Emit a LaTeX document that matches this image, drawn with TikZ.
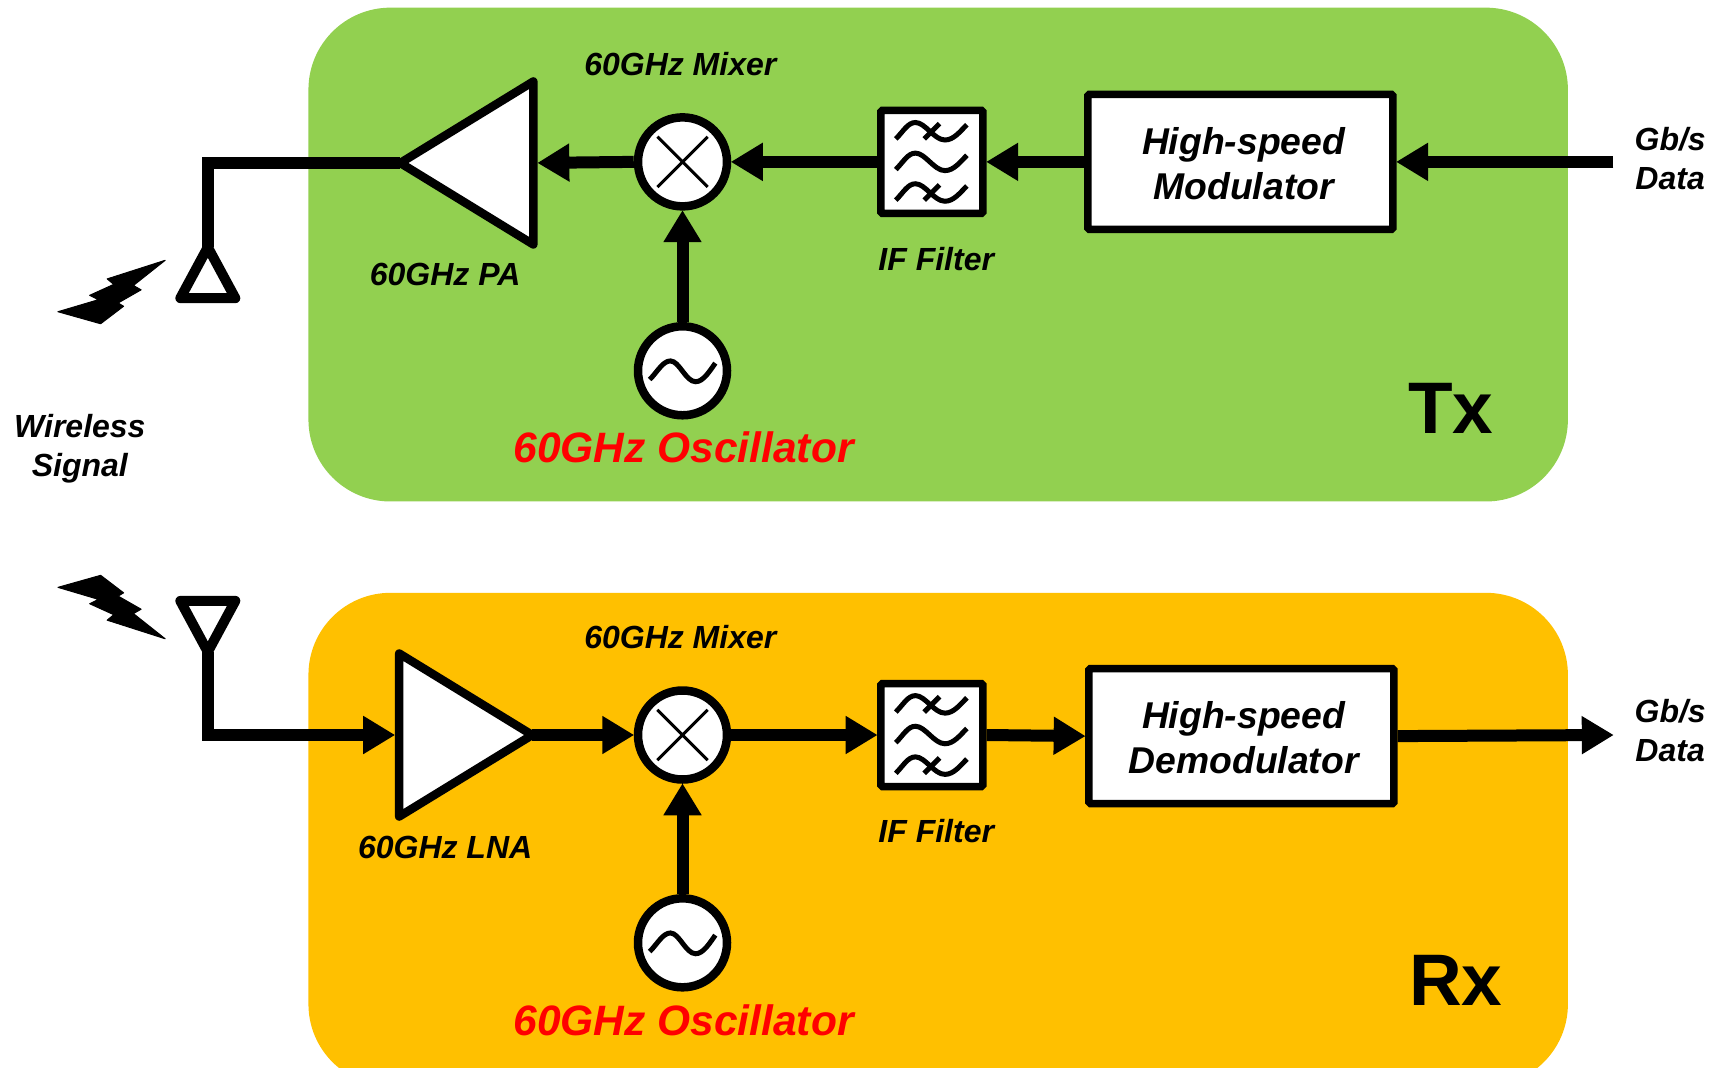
\documentclass[tikz,border=0pt]{standalone}
\usepackage{fontspec}
\setmainfont{Liberation Sans}
\usetikzlibrary{arrows.meta,shapes.geometric}
\definecolor{txgreen}{HTML}{92D050}
\definecolor{rxorange}{HTML}{FFC000}
\tikzset{
  panel/.style={rounded corners=82pt,draw=none},
  wire/.style={line width=12pt,line join=miter},
  arrowwire/.style={wire,-{Triangle[length=32pt,width=36pt]},shorten >=-0.5pt},
  block/.style={draw,line width=7.5pt,fill=white,rounded corners=1.5pt,inner sep=0pt},
  filterbox/.style={block,minimum width=102pt,minimum height=103pt},
  modbox/.style={block,minimum width=305pt,minimum height=135pt},
  modtext/.style={font=\bfseries\itshape\fontsize{37.3}{44.8}\selectfont,align=center,inner sep=0pt},
  roundel/.style={circle,draw,line width=8.5pt,fill=white,minimum size=89pt,inner sep=0pt},
  amp/.style={isosceles triangle,isosceles triangle stretches,draw,line width=8.5pt,line join=round,fill=white,inner sep=0pt,outer sep=0pt,minimum width=163pt,minimum height=133pt},
  antenna/.style={isosceles triangle,isosceles triangle stretches,draw,line width=10pt,line join=round,fill=white,inner sep=0pt,outer sep=0pt,minimum width=55pt,minimum height=51pt},
  lbl/.style={font=\bfseries\itshape\fontsize{32}{39}\selectfont,align=center,inner sep=0pt},
  osclbl/.style={font=\bfseries\itshape\fontsize{42.5}{50}\selectfont,text=red,inner sep=0pt},
  sidelbl/.style={font=\bfseries\fontsize{73}{80}\selectfont,inner sep=0pt},
  sym/.style={line width=3pt},
  wave/.style={line width=5pt},
  pics/filtericon/.style={code={
    \foreach \yy/\tick in {-28/1,0/0,28/1}{
      \draw[wave] (-33,\yy+7) .. controls (-26,\yy+0) and (-22,\yy-8) .. (-15,\yy-8)
        .. controls (-6,\yy-8) and (2,\yy+8) .. (12,\yy+8) .. controls (20,\yy+8) and (26,\yy+0) .. (32,\yy-6);
      \ifnum\tick=1 \draw[wave] (-7,\yy+7) -- (7,\yy-7); \fi
    }
  }},
  pics/crosssym/.style={code={
    \draw[sym] (-23,-23) -- (23,23) (23,-23) -- (-23,23);
  }},
  pics/tildesym/.style={code={
    \draw[line width=5pt] (-30,8) .. controls (-23,1) and (-18,-9) .. (-11,-9)
      .. controls (-3,-9) and (3,10) .. (12,10) .. controls (19,10) and (25,0) .. (30,-7);
  }},
  pics/boltsym/.style={code={
    \fill[line join=round,draw,line width=1pt]
      (98,0) -- (45,17) -- (51,22) -- (29,32) -- (37,36) -- (0,47) -- (39,58) -- (60,42)
      -- (55,39) -- (76,27) -- (69,23) -- cycle;
  }}
}
\begin{document}
\begin{tikzpicture}[x=1.0937pt,y=-1.0937pt]
\useasboundingbox (0,0) rectangle (1568,975.6);
\begin{scope}
\clip (0,0) rectangle (1568,975.6);
\fill[panel,fill=txgreen] (282,7) rectangle (1433.5,458.5);
\fill[panel,fill=rxorange] (282,542) rectangle (1433.5,993);
\end{scope}

% Tx
\node[amp,shape border rotate=180,anchor=apex] (pa) at (366,149) {};
\node[roundel] (mixt) at (624,148) {};
\node[roundel] (osct) at (624,339) {};
\node[filterbox] (filt) at (852,148) {};
\node[modbox] (mod) at (1134,148) {};
\node[antenna,shape border rotate=90,anchor=apex] (antt) at (190,226) {};
\coordinate (gbt) at (1475,148);
\draw[arrowwire] (gbt) -- (mod.east);
\draw[arrowwire] (mod.west) -- (filt.east);
\draw[arrowwire] (filt.west) -- (mixt.east);
\draw[arrowwire,shorten >=4pt] (mixt.west) -- (pa.east);
\draw[arrowwire] (osct.north) -- (mixt.south);
\draw[wire] (pa.apex) -| (antt.apex);
\pic at (mixt) {crosssym};
\pic at (osct) {tildesym};
\pic at (filt) {filtericon};
\pic at (53,238) {boltsym};

% Rx
\node[amp,shape border rotate=0,anchor=west] (lna) at (365,672) {};
\node[roundel] (mixr) at (624,672) {};
\node[roundel] (oscr) at (624,862) {};
\node[filterbox] (filr) at (852,672) {};
\node[modbox] (dem) at (1135,673) {};
\node[antenna,shape border rotate=270,anchor=apex] (antr) at (190,596) {};
\coordinate (gbr) at (1475,672);
\draw[arrowwire] (lna.apex) -- (mixr.west);
\draw[arrowwire] (mixr.east) -- (filr.west);
\draw[arrowwire] (filr.east) -- (dem.west);
\draw[arrowwire] (dem.east) -- (gbr);
\draw[arrowwire] (oscr.north) -- (mixr.south);
\draw[arrowwire,shorten >=4pt] (antr.apex) |- (lna.west);
\pic at (mixr) {crosssym};
\pic at (oscr) {tildesym};
\pic at (filr) {filtericon};
\pic[yscale=-1] at (53,584) {boltsym};

% Labels
\node[modtext] (lmod) at (1137,149.5) {High-speed\\Modulator};
\node[modtext] (ldem) at (1137,674.5) {High-speed\\Demodulator};
\node[lbl] (lmixt) at (622,59) {60GHz Mixer};
\node[lbl] (lpa) at (407,251) {60GHz PA};
\node[lbl] (lift) at (856,237) {IF Filter};
\node[osclbl] (lost) at (625,409) {60GHz Oscillator};
\node[sidelbl] (ltx) at (1326.5,373) {Tx};
\node[lbl] (lwl) at (73,410) {Wireless\\Signal};
\node[lbl] (ldt) at (1527,145) {Gb/s\\Data};
\node[lbl] (lmixr) at (622,582) {60GHz Mixer};
\node[lbl] (lln) at (407,775) {60GHz LNA};
\node[lbl] (lifr) at (856,760) {IF Filter};
\node[osclbl] (losr) at (625,933) {60GHz Oscillator};
\node[sidelbl] (lrx) at (1331,896) {Rx};
\node[lbl] (ldr) at (1527,668) {Gb/s\\Data};
\end{tikzpicture}
\end{document}
